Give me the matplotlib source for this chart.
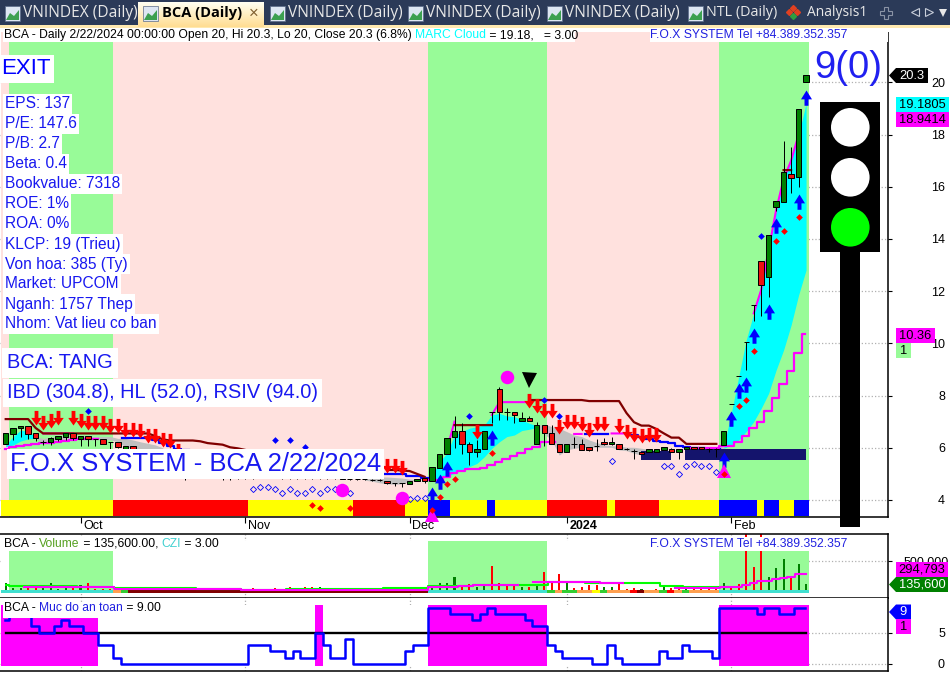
import numpy as np
import matplotlib
matplotlib.use('Agg')
import matplotlib.pyplot as plt
from matplotlib.path import Path
from matplotlib.patches import Rectangle, Circle, Polygon
from matplotlib.colors import LinearSegmentedColormap
from matplotlib.transforms import ScaledTranslation

plt.rcParams['font.family'] = ['Liberation Sans', 'DejaVu Sans']

nan = float('nan')

# Candles, one row per bar: open, high, low, close
ohlc = [
    (6.15, 6.57, 6.15, 6.57), (6.53, 6.76, 6.30, 6.76), (6.76, 6.84, 6.41, 6.84), (6.84, 6.84, 6.35, 6.53),
    (6.57, 6.57, 6.26, 6.37), (6.23, 6.30, 6.12, 6.23), (6.22, 6.42, 6.10, 6.37), (6.34, 6.45, 6.25, 6.45),
    (6.41, 6.57, 6.30, 6.57), (6.57, 6.57, 6.30, 6.37), (6.34, 6.45, 6.05, 6.45), (6.45, 6.47, 6.05, 6.34),
    (6.34, 6.34, 6.07, 6.34), (6.34, 6.34, 6.15, 6.15), (6.23, 6.23, 5.95, 6.23), (6.23, 6.23, 6.00, 6.04),
    (5.95, 6.05, 5.85, 6.05), (6.05, 6.05, 5.75, 5.85), (5.85, 5.90, 5.65, 5.70), (5.70, 5.75, 5.50, 5.55),
    (5.55, 5.60, 5.40, 5.45), (5.45, 5.50, 5.30, 5.35), (5.35, 5.40, 5.20, 5.25), (5.25, 5.30, 5.10, 5.20),
    (5.20, 5.20, 4.77, 5.05), (5.05, 5.10, 4.95, 5.00), (5.00, 5.05, 4.90, 4.95), (4.95, 5.00, 4.85, 4.90),
    (4.90, 5.00, 4.85, 4.95), (4.95, 5.00, 4.77, 4.90), (4.90, 4.95, 4.77, 4.85), (4.85, 4.90, 4.80, 4.85),
    (4.85, 4.90, 4.80, 4.85), (4.85, 4.95, 4.80, 4.90), (4.90, 4.95, 4.85, 4.90), (4.90, 4.95, 4.85, 4.90),
    (4.90, 4.95, 4.85, 4.85), (4.85, 4.90, 4.80, 4.85), (4.85, 4.90, 4.80, 4.85), (4.85, 4.90, 4.80, 4.85),
    (4.85, 4.90, 4.80, 4.85), (4.85, 4.90, 4.80, 4.85), (4.85, 4.90, 4.80, 4.85), (4.85, 4.90, 4.80, 4.85),
    (4.85, 4.90, 4.80, 4.85), (4.85, 4.90, 4.80, 4.80), (4.80, 4.85, 4.78, 4.80), (4.80, 4.85, 4.78, 4.80),
    (4.82, 4.82, 4.77, 4.79), (4.77, 4.82, 4.72, 4.77), (4.77, 4.82, 4.72, 4.77), (4.74, 4.74, 4.60, 4.64),
    (4.66, 4.66, 4.55, 4.66), (4.66, 4.66, 4.49, 4.66), (4.61, 4.74, 4.61, 4.74), (4.74, 4.82, 4.74, 4.82),
    (4.86, 4.86, 4.65, 4.74), (4.74, 5.25, 4.74, 5.25), (5.24, 5.75, 5.24, 5.75), (5.75, 6.36, 5.75, 6.36),
    (6.43, 7.22, 5.98, 6.63), (6.63, 6.94, 5.76, 6.13), (6.13, 6.23, 5.34, 5.85), (5.85, 6.30, 5.66, 5.95),
    (5.94, 6.63, 5.94, 6.63), (7.36, 7.36, 6.94, 7.36), (8.25, 8.32, 7.07, 7.36), (7.36, 7.51, 7.07, 7.36),
    (7.36, 7.36, 6.96, 7.26), (7.04, 7.36, 7.04, 7.13), (7.13, 7.20, 7.04, 7.04), (6.13, 7.00, 6.13, 6.87),
    (6.87, 6.87, 6.07, 6.55), (6.55, 6.87, 6.13, 6.13), (6.13, 6.13, 5.85, 5.85), (5.85, 6.13, 5.85, 6.13),
    (6.13, 6.40, 5.98, 6.13), (6.13, 6.32, 5.92, 5.92), (6.04, 6.04, 5.88, 5.92), (6.07, 6.32, 5.89, 6.07),
    (6.23, 6.36, 6.10, 6.13), (6.13, 6.40, 6.10, 6.23), (6.13, 6.13, 5.94, 5.94), (5.94, 5.98, 5.90, 5.94),
    (5.89, 5.95, 5.57, 5.89), (5.85, 5.85, 5.75, 5.75), (5.85, 5.94, 5.85, 5.94), (5.85, 5.94, 5.85, 5.94),
    (5.92, 6.04, 5.92, 6.04), (5.94, 6.00, 5.85, 5.85), (5.85, 5.94, 5.57, 5.94), (5.94, 6.04, 5.94, 6.04),
    (6.04, 6.04, 5.94, 5.94), (6.04, 6.04, 5.94, 5.94), (5.94, 5.98, 5.85, 5.94), (5.94, 5.98, 5.66, 5.94),
    (6.11, 6.63, 6.11, 6.63), (7.68, 7.68, 7.68, 7.68), (8.75, 8.75, 8.75, 8.75), (10.05, 10.05, 8.98, 10.05),
    (11.47, 11.47, 10.87, 11.47), (13.16, 13.16, 11.06, 12.25), (12.56, 14.15, 11.79, 14.15), (15.24, 15.46, 15.08, 15.46),
    (15.43, 17.75, 15.43, 16.57), (16.49, 17.52, 15.77, 16.35), (16.37, 18.98, 16.00, 18.98), (20.0, 20.3, 20.0, 20.3),
]
n_bars = len(ohlc)

# Background phase per bar: g green, p pink
phase = 'p' + 'g' * 14 + 'p' * 42 + 'g' * 16 + 'p' * 23 + 'g' * 12
# Bottom signal band: y yellow, r red, b blue
band = 'y' * 15 + 'r' * 18 + 'y' * 14 + 'r' * 7 + 'y' * 3 + 'b' * 3 + 'y' * 5 + 'b' + 'y' * 7 + 'r' * 8 + 'y' + 'r' * 6 + 'y' * 8 + 'b' * 5 + 'y' + 'b' * 2 + 'y' * 2 + 'b' * 2

# Cloud edges: (bar, top, bottom)
cloud_cyan = [
    [(0, 6.11, 6.04), (1, 6.43, 6.11), (2, 6.68, 6.26), (3, 6.62, 6.34), (4, 6.43, 6.36)],
    [(57, 4.89, 4.70), (58, 5.47, 4.83), (59, 5.79, 4.92), (60, 6.49, 5.02), (61, 6.62, 5.15), (62, 6.75, 5.28),
     (63, 6.81, 5.40), (64, 6.87, 5.66), (65, 7.26, 5.98), (66, 7.32, 6.23), (67, 7.22, 6.43), (68, 7.19, 6.49),
     (69, 7.07, 6.66), (70, 6.94, 6.71), (71, 6.84, 6.78)],
    [(96, 6.05, 5.98), (97, 7.32, 6.11), (98, 8.73, 6.30), (99, 10.13, 6.62), (100, 11.15, 7.00), (101, 12.05, 7.51),
     (102, 13.58, 8.09), (103, 15.11, 8.98), (104, 16.30, 9.75), (105, 17.00, 10.70), (106, 18.00, 11.85), (107, 19.18, 12.81)],
]
cloud_gray = [
    [(4, 6.43, 6.36), (5, 6.36, 6.20), (6, 6.40, 6.20), (7, 6.43, 6.21), (8, 6.46, 6.26), (9, 6.46, 6.30), (10, 6.46, 6.33),
     (11, 6.46, 6.34), (12, 6.43, 6.36), (13, 6.43, 6.34), (14, 6.43, 6.30), (15, 6.36, 6.23), (16, 6.36, 6.04),
     (17, 6.30, 5.98), (18, 6.23, 5.85), (19, 6.17, 5.79), (20, 6.11, 5.72), (21, 6.0, 5.6)],
    [(48, 4.79, 4.76), (49, 4.84, 4.72), (50, 4.88, 4.66), (51, 4.88, 4.62), (52, 4.86, 4.60), (53, 4.84, 4.62),
     (54, 4.80, 4.72), (55, 4.78, 4.76)],
    [(71, 6.84, 6.78), (72, 6.91, 6.53), (73, 6.81, 6.30), (74, 6.75, 5.72), (75, 6.62, 5.92), (76, 6.49, 5.98),
     (77, 6.43, 6.02), (78, 6.30, 6.02), (79, 6.20, 6.02), (80, 6.11, 6.02), (81, 6.08, 6.02), (82, 6.07, 5.92),
     (83, 6.02, 5.89), (84, 6.02, 5.79), (85, 5.98, 5.72), (86, 5.94, 5.85), (87, 5.92, 5.89)],
    [(95, 5.98, 5.96), (96, 6.23, 5.97)],
]

# Trailing lines, one value per bar
brown = [7.10] * 4 + [6.76] + [6.55] * 15 + [6.45, 6.32, 6.28, 6.28, 6.28, 6.28, 6.25, 6.18, 6.15, 6.12, 6.02, 5.98, 5.92]
brown += [nan] * 18 + [5.15, 5.15, 5.13, 5.11, 5.00, 4.89]
brown += [nan] * 3 + [6.87] * 6 + [nan] * 4 + [7.83] * 8 + [7.79] * 5 + [7.33, 6.98, 6.85, 6.85, 6.72, 6.55, 6.39, 6.39, 6.15, 6.15, 6.15, 6.15, 6.15]
brown += [nan] * 8 + [16.64, 16.64] + [nan] * 2
blue = [nan] * 16 + [6.39, 6.39, 6.39, 6.39, 6.30, 6.18, 6.05, 5.95, 5.92] + [nan] * 26 + [5.0, 5.0, 5.0, 4.92, 4.92, 4.85]
blue += [nan] * 21 + [6.51, 6.51, 6.51, nan, nan, nan, 6.49, 6.42, 6.33, 6.25, 6.23, 6.17, 6.07, 6.02, 5.98, 5.98, 5.95, 5.95] + [nan] * 12
magenta_low = [5.94, 6.04, 6.07, 6.12, 6.15, 6.17, 6.20, 6.23, 6.26, 6.30, 6.33, 6.34, 6.35] + [nan] * 44
magenta_low += [4.77, 4.78, 4.90, 5.02, 5.11, 5.19, 5.19, 5.24, 5.34, 5.47, 5.56, 5.69, 5.81, 5.94, 6.04, 6.23, 6.23] + [nan] * 18
magenta_low += [5.98, 5.98, 5.98, 6.00, 6.05, 6.07, 6.21, 6.46, 6.75, 6.99, 7.41, 7.92, 8.44, 8.94, 9.62, 10.36]
magenta_up = [nan] * 5 + [6.55] * 5 + [nan] * 49 + [5.95, 7.00] + [nan] * 4 + [7.26, 7.75, 7.75, 7.75, 7.75, 7.75] + [nan] * 5
magenta_up += [6.53, 6.53, nan, nan, nan, 6.55, 6.55, 6.55] + [nan] * 16 + [11.15, 12.05, 13.58, 15.11, 16.30, 17.00, 18.00, nan]

# Signals: bars and prices
red_down_x = [4, 5, 6, 7, 9, 10, 11, 12, 13, 14, 15, 16, 17, 18, 19, 20, 21, 22, 23, 51, 52, 53, 63, 70, 71, 72, 73, 74, 75, 76, 77, 78, 79, 80, 82, 83, 84, 85, 86, 87]
red_down_y = [6.87, 6.68, 6.76, 6.87, 6.87, 6.76, 6.68, 6.68, 6.68, 6.55, 6.55, 6.43, 6.43, 6.36, 6.17, 6.17, 6.04, 5.98, 5.6, 5.05, 5.05, 4.96, 6.34, 7.54, 7.34, 7.15, 7.15, 6.53, 6.72, 6.72, 6.65, 6.43, 6.65, 6.65, 6.57, 6.34, 6.23, 6.18, 6.23, 6.23]
blue_up_x = [57, 58, 59, 65, 96, 97, 98, 99, 100, 102, 103, 106, 107]
blue_up_y = [4.51, 5.00, 5.50, 6.68, 5.85, 7.42, 8.48, 8.71, 10.59, 11.51, 14.80, 15.71, 19.70]
red_dia_x = [41, 42, 46, 57, 58, 59, 60, 65, 96, 98, 99, 100, 103, 104, 106]
red_dia_y = [3.80, 3.70, 3.70, 3.60, 4.11, 4.61, 4.80, 5.80, 5.00, 7.60, 7.83, 9.72, 13.92, 14.30, 14.85]
blue_dia_x = [11, 36, 38, 40, 62, 72, 74, 101]
blue_dia_y = [7.42, 6.30, 6.30, 6.02, 7.22, 7.83, 7.22, 14.13]
open_dia_x = [33, 34, 35, 36, 37, 38, 39, 40, 41, 42, 43, 44, 45, 46, 54, 55, 56, 81, 88, 89, 90, 91, 92, 93, 94, 95]
open_dia_y = [4.41, 4.51, 4.51, 4.41, 4.25, 4.41, 4.25, 4.25, 4.41, 4.25, 4.41, 4.41, 4.25, 4.25, 4.03, 4.09, 4.09, 5.51, 5.30, 5.30, 5.00, 5.30, 5.38, 5.30, 5.30, 5.08]
circle_x = [45, 53, 67]
circle_y = [4.38, 4.08, 8.71]
tri_up_x = [57, 96]
tri_up_y = [3.43, 5.12]
tri_down_x = [70]
tri_down_y = [8.60]
# navy support blocks: left edge, right edge (in bars), top, bottom
navy_blocks = [(84.9, 88.9, 5.88, 5.53), (90.8, 107.0, 5.94, 5.53)]

# Volume pane, thousands of shares
volume = [158, 68, 68, 68, 95, 68, 158, 53, 95, 105, 121, 158, 53, 53, 53, 84, 68, 53, 68, 84,
          53, 42, 53, 53, 42, 53, 68, 42, 42, 53, 53, 42, 53, 68, 42, 42, 68, 53, 95, 53,
          84, 84, 84, 68, 68, 53, 68, 53, 68, 53, 68, 68, 68, 68, 84, 68, 84, 121, 147, 158,
          252, 105, 131, 84, 105, 420, 147, 105, 105, 84, 84, 121, 326, 158, 294, 158, 68, 84, 121, 121,
          84, 84, 137, 53, 68, 53, 32, 53, 84, 68, 84, 84, 84, 68, 68, 84, 147, 84, 137, 950,
          400, 950, 241, 384, 526, 241, 452, 136]
vol_color = ('gggrrggggr' 'grrrrrgrrr' 'grrrrrrrrr' 'rrrrrrrrrr' 'rrgrrrrrrr'
             'rrrrggrggg' 'grrggrrrrg' 'rgrrrgrrrr' 'ggrrrggrgr' 'rgrrrrgrrr' 'rrgggrgg')
vol_strip = 't' * 15 + 'o' + 'l' + 'd' * 40 + 't' * 16 + 'lolloo' + 'ylooo' + 'rdoo' + 'lrol' + 'oooo' + 't' * 12
vol_lime = [121] + [105] * 9 + [95] * 5 + [68] * 2 + [79] * 9 + [58] * 6 + [42] * 6 + [58] * 13 + [68] * 6 + [105] * 6 + [121] * 10 + [173] * 5 + [147] * 10 + [110] * 3 + [84] * 6 + [nan] * 11
vol_magenta = [nan] * 3 + [95] * 12 + [58] * 17 + [42] * 6 + [50] * 19 + [84] * 4 + [105] * 2 + [121] * 6 + [nan] * 2 + [173] * 9 + [147] * 3 + [nan] * 6 + [nan] * 1 + [68] * 6 + [84] * 3 + [121, 158, 184, 184, 210, 236, 252, 289, 295]
# Safety level pane
safety = [7, 8, 8, 8, 6, 5, 5, 6, 7, 6, 6, 5, 5, 3, 3, 1] + [0] * 17 + [3, 3, 3, 2, 2, 1, 2, 1, 1, 5, 3, 1, 1, 4] + [0] * 7
safety += [2, 3, 3, 9, 9, 9, 8, 8, 8, 7, 8, 9, 8, 8, 8, 8, 7, 6, 6, 3, 2, 1, 1, 1, 1, 0, 0, 3, 1, 0, 0, 0, 0, 0, 2, 1, 1, 3, 2, 2, 2, 1]
safety += [9, 9, 9, 9, 9, 8, 9, 9, 8, 8, 9, 9]

price_ticks = [4, 6, 8, 10, 12, 14, 16, 18, 20]
date_ticks = [10, 32, 54, 75, 97]
date_labels = ['Oct', 'Nov', 'Dec', '2024', 'Feb']
info_lines = ['EPS: 137', 'P/E: 147.6', 'P/B: 2.7', 'Beta: 0.4', 'Bookvalue: 7318', 'ROE: 1%', 'ROA: 0%',
              'KLCP: 19 (Trieu)', 'Von hoa: 385 (Ty)', 'Market: UPCOM', 'Nganh: 1757 Thep', 'Nhom: Vat lieu co ban']
tabs = [(5, 'VNINDEX (Daily)', 11.2), (270, 'VNINDEX (Daily)', 11.2), (408, 'VNINDEX (Daily)', 11.2),
        (547, 'VNINDEX (Daily)', 11.2), (688, 'NTL (Daily)', 10.4)]

GREEN_BG = '#98FB98'
PINK_BG = '#FFE1DE'
GRID = '#B0B0B0'
W, H = 950, 673
X0, DX = 5.7, 7.48      # pixel of bar 0, pixels per bar
SHIFT = -0.1            # background cells sit a little left of the candle


def make_ax(top, bottom, ylim):
    ax = fig.add_axes([0, 1 - bottom / H, 888 / W, (bottom - top) / H])
    ax.set_xlim(-X0 / DX, (888 - X0) / DX)
    ax.set_ylim(*ylim)
    ax.yaxis.tick_right()
    ax.set_axisbelow(True)
    ax.grid(True, color=GRID, ls=':', lw=0.9)
    for side in ('left', 'top'):
        ax.spines[side].set_visible(False)
    for side in ('right', 'bottom'):
        ax.spines[side].set_linewidth(1.1)
    ax.tick_params(axis='y', length=3, width=0.8, pad=38, labelsize=9)
    return ax


def cells(ax, codes, colors, low, high):
    xs = np.arange(n_bars) + SHIFT
    ax.bar(xs, high - low, bottom=low, width=1.0, color=[colors[c] for c in codes],
           linewidth=0, antialiased=False, zorder=1)


fig = plt.figure(figsize=(W / 100, H / 100), dpi=100, facecolor='white')

# ---- main price pane
ax = make_ax(30, 517, (4 - 17 / 26.1, 4 + 470 / 26.1))
ax.set_yticks(price_ticks)
ax.set_yticklabels([str(v) for v in price_ticks], ha='right')
ax.set_xticks(date_ticks)
ax.set_xticklabels(date_labels, ha='left')
ax.tick_params(axis='x', length=4, width=0.8, pad=-1.5, labelsize=9)
nudge = ScaledTranslation(2 / 72, 0, fig.dpi_scale_trans)
for lab in ax.get_xticklabels():
    lab.set_transform(lab.get_transform() + nudge)
ax.get_xticklabels()[3].set_fontweight('bold')
cells(ax, phase, {'g': GREEN_BG, 'p': PINK_BG}, 4 - 17 / 26.1, 21.93)
cells(ax, band, {'y': '#FFFF00', 'r': '#FF0000', 'b': '#0000FF'}, 3.39, 4.0)

for seg in cloud_cyan:
    a = np.array(seg)
    ax.fill_between(a[:, 0], a[:, 1], a[:, 2], color='#00FFFF', lw=0, zorder=2)
for seg in cloud_gray:
    a = np.array(seg)
    ax.fill_between(a[:, 0], a[:, 1], a[:, 2], color='#C0C0C0', lw=0, zorder=2)

bars = np.arange(n_bars)
ax.plot(bars, magenta_up, color='#FF00FF', lw=1.5, zorder=3)
ax.plot(bars, blue, color='#0000FF', lw=1.6, drawstyle='steps-mid', zorder=3)
ax.plot(bars + SHIFT, magenta_low, color='#FF00FF', lw=1.6, drawstyle='steps-mid', zorder=3)
ax.plot(bars, brown, color='#800000', lw=1.6, zorder=3.2)

for left, right, top, bottom in navy_blocks:
    ax.bar(left, top - bottom, bottom=bottom, width=right - left, align='edge',
           color='#14146C', linewidth=0, zorder=4)

o, h, l, c = np.array(ohlc).T
ax.vlines(bars, l, h, color='black', lw=0.72, zorder=5)
body_col = np.where(c >= o, '#008000', '#F01010')
ax.bar(bars, np.abs(c - o), bottom=np.minimum(o, c), width=0.72, color=body_col,
       edgecolor='black', linewidth=0.72, zorder=5.1)

down_arrow = Path([(0, 0), (-0.36, 0.52), (-0.13, 0.52), (-0.13, 1), (0.13, 1), (0.13, 0.52), (0.36, 0.52), (0, 0)], closed=True)
up_arrow = Path([(0, 0), (-0.36, -0.58), (-0.13, -0.58), (-0.13, -1), (0.13, -1), (0.13, -0.58), (0.36, -0.58), (0, 0)], closed=True)
ax.plot(red_down_x, red_down_y, ls='none', marker=down_arrow, ms=21, color='#FF0000', mew=0, zorder=6)
ax.plot(blue_up_x, blue_up_y, ls='none', marker=up_arrow, ms=22, color='#0000FF', mew=0, zorder=6)
ax.plot(open_dia_x, open_dia_y, ls='none', marker='D', ms=3.1, mfc='none', mec='#0000FF', mew=0.6, zorder=6)
ax.plot(circle_x, circle_y, ls='none', marker='o', ms=9.7, color='#FF00FF', mew=0, zorder=6)
ax.plot(tri_up_x, tri_up_y, ls='none', marker='^', ms=10.5, color='#FF00FF', mew=0, zorder=6, clip_on=False)
ax.plot(tri_down_x, tri_down_y, ls='none', marker='v', ms=10.8, color='black', mew=0, zorder=6)
ax.plot(red_dia_x, red_dia_y, ls='none', marker='D', ms=3.4, color='#FF0000', mew=0, zorder=6.5)
ax.plot(blue_dia_x, blue_dia_y, ls='none', marker='D', ms=3.4, color='#0000FF', mew=0, zorder=6.5)

# ---- volume pane
vx = make_ax(534, 598, (-5.3 * 15.77, 58.7 * 15.77))
vx.spines['top'].set_visible(True)
vx.spines['top'].set_linewidth(1.1)
vx.set_yticks([500])
vx.set_yticklabels(['500,000'], ha='right')
vx.tick_params(axis='y', pad=41)
vx.set_xticks(date_ticks)
vx.set_xticklabels([])
vx.tick_params(axis='x', length=0)
v_white = {'g': GREEN_BG, 'p': 'white'}
vx.bar(bars + SHIFT, 51.7 * 15.77, bottom=0, width=1.0, color=[v_white[p] for p in phase], linewidth=0, antialiased=False, zorder=1)
vx.bar(bars, volume, width=0.27, color=['#008000' if k == 'g' else '#FF0000' for k in vol_color],
       linewidth=0, antialiased=False, zorder=2)
strip_map = {'t': '#40E0D0', 'o': '#FFA050', 'l': '#32CD32', 'd': '#800000', 'y': '#FFFF00', 'r': '#FF0000'}
vx.bar(bars + SHIFT, 42, width=1.0, color=[strip_map[k] for k in vol_strip], linewidth=0, antialiased=False, zorder=2.5)
vx.plot(bars, vol_lime, color='#00FF00', lw=1.5, drawstyle='steps-mid', zorder=3)
vx.plot(bars, vol_magenta, color='#FF00FF', lw=1.5, drawstyle='steps-mid', zorder=3.1)

# ---- safety pane
sx = make_ax(598, 671, ((664 - 671) / 6.27, (664 - 598) / 6.27))
sx.set_yticks([0, 5])
sx.set_yticklabels(['0', '5'], ha='right')
sx.set_xticks(date_ticks)
sx.set_xticklabels([])
sx.tick_params(axis='x', length=0)
safety_arr = np.array(safety)
s_col = ['#FF00FF' if v >= 5 else 'white' for v in safety_arr]
sx.bar(bars + SHIFT, 9.4 + 0.3, bottom=-0.3, width=1.0, color=s_col, linewidth=0, antialiased=False, zorder=1)
sx.plot(bars + SHIFT, safety, color='#0000FF', lw=1.8, drawstyle='steps-mid', zorder=3)
sx.plot([0, n_bars - 1], [5, 5], color='black', lw=1.7, zorder=2.5)

# ---- pixel overlay: tabs, captions, traffic light and value tags
ov = fig.add_axes([0, 0, 1, 1], facecolor='none')
ov.set_axis_off()
rend = fig.canvas.get_renderer()
CAP = dict(fontsize=8.75, va='center', ha='left', zorder=21)


def inline(x, y, parts, **kw):
    for txt, col in parts:
        t = ov.text(x, y, txt, color=col, **{**CAP, **kw})
        x += t.get_window_extent(rend).width
    return x


def tab_icon(x):
    ov.add_patch(Rectangle((x, 6), 15, 15, fc='#DDE6F2', ec='#5A6A88', lw=0.5, zorder=12))
    ov.add_patch(Polygon([(x + 1, 20), (x + 5, 13), (x + 9, 16), (x + 14, 10), (x + 14, 20)], fc='#3CA050', ec='none', zorder=13))


ov.add_patch(Rectangle((0, 0), W, 25, fc='#2B3A58', ec='none', zorder=10))
ov.add_patch(Rectangle((0, 25), W, 3, fc='#FFE9B0', ec='none', zorder=10))
ov.add_patch(Rectangle((0, 28), W, 4, fc='white', ec='none', zorder=10))
grad = LinearSegmentedColormap.from_list('tab', ['#FFFFF2', '#FFDD92'])
ov.imshow(np.linspace(0, 1, 30)[:, None], cmap=grad, extent=(138, 264, 27, 2), aspect='auto', zorder=11)
for x, label, size in tabs:
    tab_icon(x)
    ov.text(x + 18, 13, label, color='#E8E8E8', fontsize=size, family='Open Sans', va='center', zorder=12)
tab_icon(143)
ov.text(162, 13, 'BCA (Daily)', color='black', fontsize=10.5, family='Open Sans', fontweight='bold', va='center', zorder=12)
ov.text(254, 13, '\u00d7', color='#806030', fontsize=12, va='center', ha='center', zorder=12)
ov.plot([789, 793, 797], [12, 8, 12], ls='none', marker='D', ms=3, color='#E04020', zorder=12)
ov.plot([793], [16], ls='none', marker='D', ms=3, color='#30A040', zorder=12)
ov.text(807, 13, 'Analysis1', color='#E8E8E8', fontsize=10, family='Open Sans', va='center', zorder=12)
ov.plot([886], [13], ls='none', marker='P', ms=8, mfc='none', mec='#8A93A5', mew=0.8, zorder=12)
ov.plot([915], [12], ls='none', marker='<', ms=6, mfc='none', mec='#C8CEDA', mew=0.8, zorder=12)
ov.plot([929], [12], ls='none', marker='>', ms=6, mfc='none', mec='#C8CEDA', mew=0.8, zorder=12)
ov.plot([943], [13], ls='none', marker='v', ms=6, color='#E8E8E8', mew=0, zorder=12)

# main caption strip
ov.add_patch(Rectangle((3, 29), 572, 13, fc='white', ec='none', zorder=20))
ov.add_patch(Rectangle((650, 29), 196, 13, fc='white', ec='none', zorder=20))
ov.add_patch(Rectangle((810, 29), 78, 13, fc='white', ec='none', zorder=20))
x = inline(4, 35, [('BCA - Daily 2/22/2024 00:00:00 Open 20, Hi 20.3, Lo 20, Close 20.3 (6.8%) ', 'black'), ('MARC Cloud', '#00FFFF'), (' = 19.18,   = 3.00', 'black')])
ov.text(650, 35, 'F.O.X SYSTEM Tel +84.389.352.357', color='#2020E0', **CAP)

# volume captions
ov.add_patch(Rectangle((3, 537), 217, 14, fc='white', ec='none', zorder=20))
ov.add_patch(Rectangle((648, 537), 200, 14, fc='white', ec='none', zorder=20))
inline(4, 544, [('BCA - ', 'black'), ('Volume', '#55A020'), (' = 135,600.00, ', 'black'), ('CZI', '#40D0D0'), (' = 3.00', 'black')])
ov.text(650, 544, 'F.O.X SYSTEM Tel +84.389.352.357', color='#2020E0', **CAP)

# safety caption
ov.add_patch(Rectangle((3, 603), 157, 15, fc='white', ec='none', zorder=20))
inline(4, 608, [('BCA - ', 'black'), ('Muc do an toan', '#2020E0'), (' = 9.00', 'black')])

BOX = dict(fc='white', ec='none', pad=1.6)
ov.text(1, 69, 'EXIT', color='#0000FF', fontsize=16, va='center', ha='left', zorder=22, bbox=dict(fc='white', ec='none', pad=2.5))
for k, line in enumerate(info_lines):
    ov.text(5, 104 + 20 * k, line, color='#1818F0', fontsize=11.2, va='center', ha='left', zorder=22, bbox=BOX)
ov.text(7, 363, 'BCA: TANG', color='#1818F0', fontsize=14.4, va='center', ha='left', zorder=22, bbox=dict(fc='white', ec='none', pad=3.8))
ov.text(7, 393, 'IBD (304.8), HL (52.0), RSIV (94.0)', color='#1818F0', fontsize=14.4, va='center', ha='left', zorder=22, bbox=dict(fc='white', ec='none', pad=3))
ov.text(10, 464, 'F.O.X SYSTEM - BCA 2/22/2024', color='#1818F0', fontsize=18.45, va='center', ha='left', zorder=22, bbox=dict(fc='white', ec='none', pad=2.2))
ov.text(848, 68, '9(0)', color='#2020F0', fontsize=27.5, va='center', ha='center', zorder=22)

# traffic light
ov.add_patch(Rectangle((820, 102), 60, 150, fc='black', ec='none', zorder=15))
ov.add_patch(Rectangle((840, 252), 20, 275, fc='black', ec='none', zorder=15))
for cy, col in ((127.3, 'white'), (177.3, 'white'), (227.3, '#00FF00')):
    ov.add_patch(Circle((850.3, cy), 19.3, fc=col, ec='none', zorder=16))


def tag(text, y, right, face, fg, left, arrow=False):
    y0, y1 = y - 7.5, y + 7.5
    if arrow:
        pts = [(left - 7, y), (left, y0), (right, y0), (right, y1), (left, y1)]
        ov.add_patch(Polygon(pts, fc=face, ec='none', zorder=23))
    else:
        ov.add_patch(Rectangle((left, y0), right - left, 15, fc=face, ec='none', zorder=23))
    ov.text((left + right) / 2, y + 0.3, text, color=fg, fontsize=9.3, ha='center', va='center', zorder=24)


tag('20.3', 75.5, 928, 'black', 'white', 896, arrow=True)
tag('19.1805', 104.5, 949, '#00FFFF', 'black', 896)
tag('18.9414', 119.5, 949, '#FF00FF', 'black', 896)
tag('10.36', 335.5, 935, '#FF00FF', 'black', 896)
tag('1', 350.5, 911, GREEN_BG, 'black', 896)
tag('294,793', 569.5, 948, '#FF00FF', 'black', 896)
tag('135,600', 584.5, 948, '#008000', 'white', 896, arrow=True)
tag('9', 612, 911, '#0000FF', 'white', 896, arrow=True)
tag('1', 626.5, 911, '#FF00FF', 'black', 896)

ov.set_xlim(0, W)
ov.set_ylim(H, 0)

fig.savefig('out.png', dpi=100)
